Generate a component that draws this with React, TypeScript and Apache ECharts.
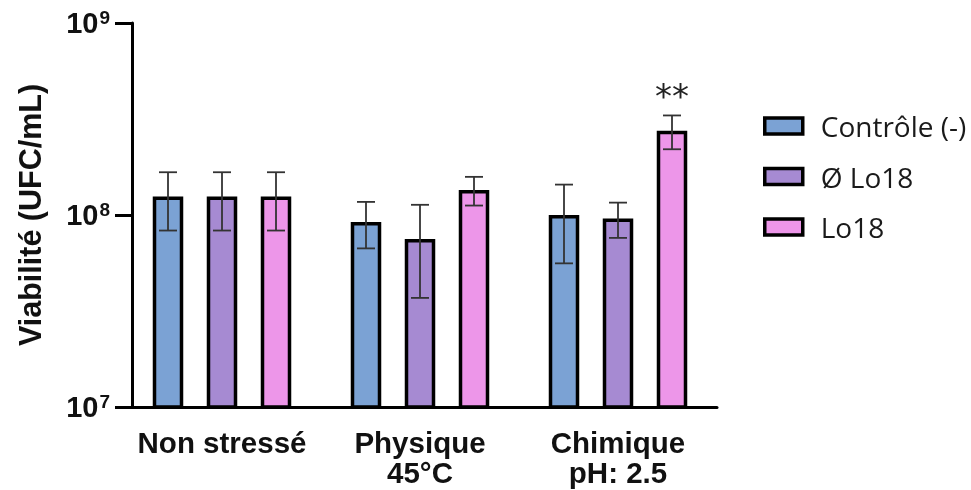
import React, { useEffect, useRef } from "react";
import * as echarts from "echarts";

const categories = ["Non stressé", "Physique\n45°C", "Chimique\npH: 2.5"];
const seriesNames = ["Contrôle (-)", "Ø Lo18", "Lo18"];
const seriesColors = ["#7BA2D4", "#A68AD2", "#ED96E9"];
const controlValues = [1.25e8, 0.92e8, 1.0e8];
const controlErrors = [0.42e8, 0.25e8, 0.44e8];
const noLo18Values = [1.25e8, 0.75e8, 0.96e8];
const noLo18Errors = [0.42e8, 0.38e8, 0.2e8];
const lo18Values = [1.25e8, 1.35e8, 2.75e8];
const lo18Errors = [0.42e8, 0.23e8, 0.55e8];
const lo18Significance = ["", "", "**"];
const yTickExponents = [7, 8, 9];

const allValues = [controlValues, noLo18Values, lo18Values];
const allErrors = [controlErrors, noLo18Errors, lo18Errors];
const allSig = [["", "", ""], ["", "", ""], lo18Significance];

const BAR_W = 30.5;
const BAR_STEP = 54;
const FONT = "'Liberation Sans', Arial, sans-serif";

export default function App() {
  const ref = useRef<HTMLDivElement>(null);
  useEffect(() => {
    if (!ref.current) return;
    const chart = echarts.init(ref.current, undefined, { renderer: "svg" });

    const barSeries = seriesNames.map((name, i) => ({
      name,
      type: "bar",
      data: allValues[i],
      barWidth: BAR_W,
      barGap: ((BAR_STEP - BAR_W) / BAR_W) * 100 + "%",
      clip: true,
      itemStyle: { color: seriesColors[i], borderColor: "#000", borderWidth: 3.5 },
      z: 2,
    }));

    const errSeries = seriesNames.map((name, i) => ({
      name: "err" + i,
      type: "custom",
      z: 5,
      data: allValues[i].map((v, k) => [k, v, allErrors[i][k]]),
      encode: { x: 0, y: 1 },
      renderItem: (params: any, api: any) => {
        const idx = api.value(0);
        const mean = api.value(1);
        const err = api.value(2);
        const c = api.coord([idx, mean]);
        const x = c[0] + (i - 1) * BAR_STEP;
        const top = api.coord([idx, mean + err])[1];
        const bot = api.coord([idx, mean - err])[1];
        const cap = 9;
        const st = { stroke: "#333", lineWidth: 1.8 };
        const children: any[] = [
          { type: "line", shape: { x1: x, y1: top, x2: x, y2: bot }, style: st },
          { type: "line", shape: { x1: x - cap, y1: top, x2: x + cap, y2: top }, style: st },
          { type: "line", shape: { x1: x - cap, y1: bot, x2: x + cap, y2: bot }, style: st },
        ];
        const s = allSig[i][idx];
        if (s) {
          children.push({
            type: "text",
            style: {
              text: s,
              x: x,
              y: top - 2,
              align: "center",
              verticalAlign: "bottom",
              fontSize: 34,
              fontFamily: "'DejaVu Sans', sans-serif",
              fill: "#222",
            },
          });
        }
        return { type: "group", children };
      },
    }));

    chart.setOption({
      animation: false,
      grid: { left: 123, top: 23, width: 594, height: 384, containLabel: false },
      legend: {
        data: seriesNames,
        orient: "vertical",
        left: 758,
        top: 106,
        itemWidth: 38,
        itemHeight: 16,
        itemGap: 20.5,
        icon: "rect",
        itemStyle: { borderColor: "#000", borderWidth: 3.5 },
        textStyle: {
          fontFamily: "'Open Sans', sans-serif",
          fontSize: 28,
          lineHeight: 30,
          color: "#1a1a1a",
          padding: [0, 0, 0, 13],
        },
        selectedMode: false,
      },
      xAxis: {
        type: "category",
        data: categories,
        boundaryGap: true,
        axisLine: { lineStyle: { color: "#000", width: 3 } },
        axisTick: { alignWithLabel: true, length: 12, lineStyle: { color: "#000", width: 3 } },
        axisLabel: {
          interval: 0,
          margin: 20,
          fontFamily: FONT,
          fontWeight: "bold",
          fontSize: 29.5,
          lineHeight: 30,
          color: "#111",
        },
        splitLine: { show: false },
      },
      yAxis: {
        type: "log",
        logBase: 10,
        min: Math.pow(10, yTickExponents[0]),
        max: Math.pow(10, yTickExponents[yTickExponents.length - 1]),
        offset: -9,
        name: "Viabilité (UFC/mL)",
        nameLocation: "middle",
        nameGap: 87,
        nameTextStyle: { fontFamily: FONT, fontWeight: "bold", fontSize: 30.5, color: "#111" },
        axisLine: { show: true, lineStyle: { color: "#000", width: 3 } },
        axisTick: { show: true, length: 17, lineStyle: { color: "#000", width: 3 } },
        minorTick: { show: false },
        splitLine: { show: false },
        axisLabel: {
          margin: 22,
          formatter: (v: number) => {
            const e = Math.round(Math.log10(v));
            return "{a|10}{b|" + e + "}";
          },
          rich: {
            a: { fontFamily: FONT, fontWeight: "bold", fontSize: 29, lineHeight: 30, color: "#111" },
            b: {
              fontFamily: FONT,
              fontWeight: "bold",
              fontSize: 19,
              lineHeight: 18,
              verticalAlign: "top",
              color: "#111",
              padding: [0, 0, 0, 1],
            },
          },
        },
      },
      series: [...barSeries, ...errSeries],
    });
    return () => chart.dispose();
  }, []);
  return (
    <div
      ref={ref}
      style={{ position: "fixed", left: 0, top: 0, width: 971, height: 490 }}
    />
  );
}
